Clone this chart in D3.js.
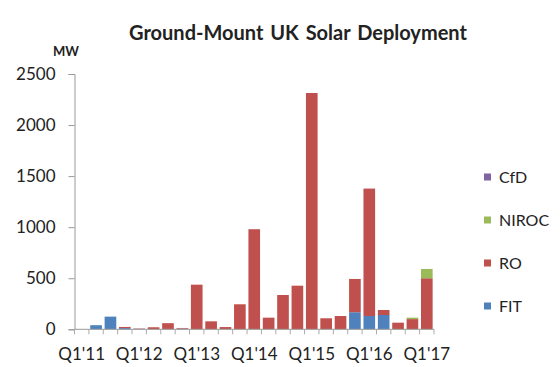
<!DOCTYPE html>
<html>
<head>
<meta charset="utf-8">
<script src="https://cdn.jsdelivr.net/npm/d3@7"></script>
<style>
  body { margin: 0; background: #fff; }
  text { font-family: Lato, "Open Sans", sans-serif; fill: #222; }
</style>
</head>
<body>
<svg id="chart" width="560" height="367"></svg>
<script>
// quarters Q1'11 .. Q1'17
var quarters = ["Q1'11","Q2'11","Q3'11","Q4'11","Q1'12","Q2'12","Q3'12","Q4'12",
  "Q1'13","Q2'13","Q3'13","Q4'13","Q1'14","Q2'14","Q3'14","Q4'14",
  "Q1'15","Q2'15","Q3'15","Q4'15","Q1'16","Q2'16","Q3'16","Q4'16","Q1'17"];
var fit   = [0, 40, 124, 12, 4, 0, 0, 6, 0, 0, 0, 0, 0, 0, 0, 0, 0, 0, 0, 167, 130, 140, 0, 0, 0];
var ro    = [0, 0, 0, 11, 4, 20, 60, 7, 437, 78, 22, 245, 980, 114, 336, 427, 2314, 108, 130, 326, 1248, 49, 65, 100, 500];
var niroc = [0, 0, 0, 0, 0, 0, 0, 0, 0, 0, 0, 0, 0, 0, 0, 0, 0, 0, 0, 0, 0, 0, 0, 14, 91];
var cfd   = [0, 0, 0, 0, 0, 0, 0, 0, 0, 0, 0, 0, 0, 0, 0, 0, 0, 0, 0, 0, 0, 0, 0, 0, 0];
var yTicks = [0, 500, 1000, 1500, 2000, 2500];
var xLabels = ["Q1'11","Q1'12","Q1'13","Q1'14","Q1'15","Q1'16","Q1'17"];

var seriesNames = ["FIT", "RO", "NIROC", "CfD"];
var colors = {FIT: "#4f81bd", RO: "#c0504d", NIROC: "#9bbb59", CfD: "#8064a2"};

var svg = d3.select("#chart");

var rows = quarters.map(function (q, i) {
  return {q: q, FIT: fit[i], RO: ro[i], NIROC: niroc[i], CfD: cfd[i]};
});
var stacked = d3.stack().keys(seriesNames)(rows);

var x = d3.scaleBand().domain(quarters).range([74.5, 434]).paddingInner(0.19).paddingOuter(0.095);
var y = d3.scaleLinear().domain([0, 2500]).range([329.3, 74]);

// title
svg.append("text")
  .attr("x", 298).attr("y", 40)
  .attr("text-anchor", "middle")
  .attr("font-size", "20px")
  .attr("font-weight", "bold")
  .style("word-spacing", "2px")
  .text("Ground-Mount  UK Solar Deployment");

svg.append("text")
  .attr("x", 66).attr("y", 56)
  .attr("text-anchor", "middle")
  .attr("font-size", "13px")
  .attr("font-weight", "bold")
  .text("MW");

// bars
svg.append("g").selectAll("g")
  .data(stacked)
  .enter().append("g")
  .attr("fill", function (d) { return colors[d.key]; })
  .selectAll("rect")
  .data(function (d) { return d; })
  .enter().append("rect")
  .attr("x", function (d) { return x(d.data.q); })
  .attr("width", x.bandwidth())
  .attr("y", function (d) { return y(d[1]); })
  .attr("height", function (d) { return y(d[0]) - y(d[1]); });

// y axis
var yAxis = svg.append("g")
  .attr("transform", "translate(74.5,0)")
  .call(d3.axisLeft(y).tickValues(yTicks).tickFormat(d3.format("d")).tickSize(6).tickPadding(13));
yAxis.selectAll("path, line").attr("stroke", "#999");
yAxis.selectAll("text").attr("font-size", "17px").attr("font-family", "Lato, sans-serif").attr("fill", "#222");

// x axis line and ticks between categories
svg.append("line")
  .attr("x1", 74.5).attr("x2", 434)
  .attr("y1", y(0)).attr("y2", y(0))
  .attr("stroke", "#999");
svg.append("g").selectAll("line")
  .data(quarters.concat(["end"]))
  .enter().append("line")
  .attr("x1", function (d, i) { return 74.5 + i * x.step(); })
  .attr("x2", function (d, i) { return 74.5 + i * x.step(); })
  .attr("y1", y(0)).attr("y2", y(0) + 5)
  .attr("stroke", "#aaa");

svg.append("g").selectAll("text")
  .data(xLabels)
  .enter().append("text")
  .attr("x", function (d) { return x(d) + x.bandwidth() / 2; })
  .attr("y", 360)
  .attr("text-anchor", "middle")
  .attr("font-size", "17px")
  .text(function (d) { return d; });

// legend
var legendItems = ["CfD", "NIROC", "RO", "FIT"];
var legend = svg.append("g").selectAll("g")
  .data(legendItems)
  .enter().append("g")
  .attr("transform", function (d, i) { return "translate(484," + (177 + i * 43) + ")"; });
legend.append("rect")
  .attr("x", 0).attr("y", -3.5)
  .attr("width", 7).attr("height", 7)
  .attr("fill", function (d) { return colors[d]; });
legend.append("text")
  .attr("x", 15).attr("y", 5.5)
  .attr("font-size", "16px")
  .text(function (d) { return d; });
</script>
</body>
</html>
